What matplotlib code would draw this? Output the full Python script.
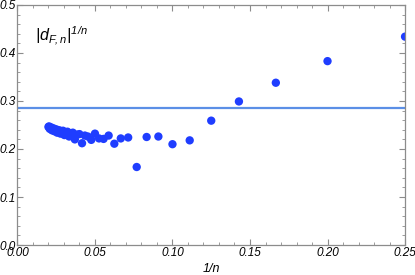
import numpy as np
import matplotlib
matplotlib.use('Agg')
import matplotlib.pyplot as plt
from matplotlib.ticker import MultipleLocator

plt.rcParams.update({
    'font.family': ['Liberation Sans', 'DejaVu Sans'],
    'font.size': 8.5,
    'mathtext.fontset': 'custom',
    'mathtext.it': 'Liberation Sans:italic',
    'mathtext.rm': 'Liberation Sans:italic',
})

# n values and |d_{F,n}|^(1/n)
n = np.arange(4, 51)
dval = [0.434, 0.383, 0.338, 0.299, 0.259, 0.218, 0.210, 0.226, 0.225, 0.1625,
        0.224, 0.222, 0.211, 0.228, 0.221, 0.222, 0.232, 0.219, 0.226, 0.228,
        0.212, 0.231, 0.230, 0.220, 0.234, 0.232, 0.226, 0.236, 0.234, 0.229,
        0.238, 0.236, 0.232, 0.239, 0.238, 0.234, 0.241, 0.240, 0.237, 0.243,
        0.242, 0.239, 0.245, 0.244, 0.242, 0.247, 0.246]
limit = 0.285

fig = plt.figure(figsize=(4.15, 2.75), dpi=100)
ax = fig.add_axes([0.042, 0.109, 0.934, 0.873])

ax.axhline(limit, color='#5b8fe6', lw=1.6, zorder=1)
ax.scatter(1 / n, dval, s=36, color='#1f3dff', edgecolors='none', zorder=2)

ax.set_xlim(0, 0.25)
ax.set_ylim(0, 0.5)
ax.xaxis.set_major_locator(MultipleLocator(0.05))
ax.xaxis.set_minor_locator(MultipleLocator(0.01))
ax.yaxis.set_major_locator(MultipleLocator(0.1))
ax.yaxis.set_minor_locator(MultipleLocator(0.02))
ax.xaxis.set_major_formatter(plt.FuncFormatter(lambda v, p: f'{v:.2f}'))
ax.yaxis.set_major_formatter(plt.FuncFormatter(lambda v, p: f'{v:.1f}'))

for sp in ax.spines.values():
    sp.set_color('#8c8c8c')
    sp.set_linewidth(0.9)
ax.tick_params(which='both', direction='in', top=True, right=True,
               color='#8c8c8c', pad=1.5)
ax.tick_params(which='major', length=4, width=0.8)
ax.tick_params(which='minor', length=2, width=0.6)
for lab in ax.get_xticklabels() + ax.get_yticklabels():
    lab.set_fontstyle('italic')

ax.set_xlabel('1/n', fontstyle='italic', fontsize=9, labelpad=3)
ax.text(0.0115, 0.437, r'$|d_{F,n}|^{1/n}$', fontsize=11.5, ha='left', va='center')

fig.savefig('out.png', dpi=100)
